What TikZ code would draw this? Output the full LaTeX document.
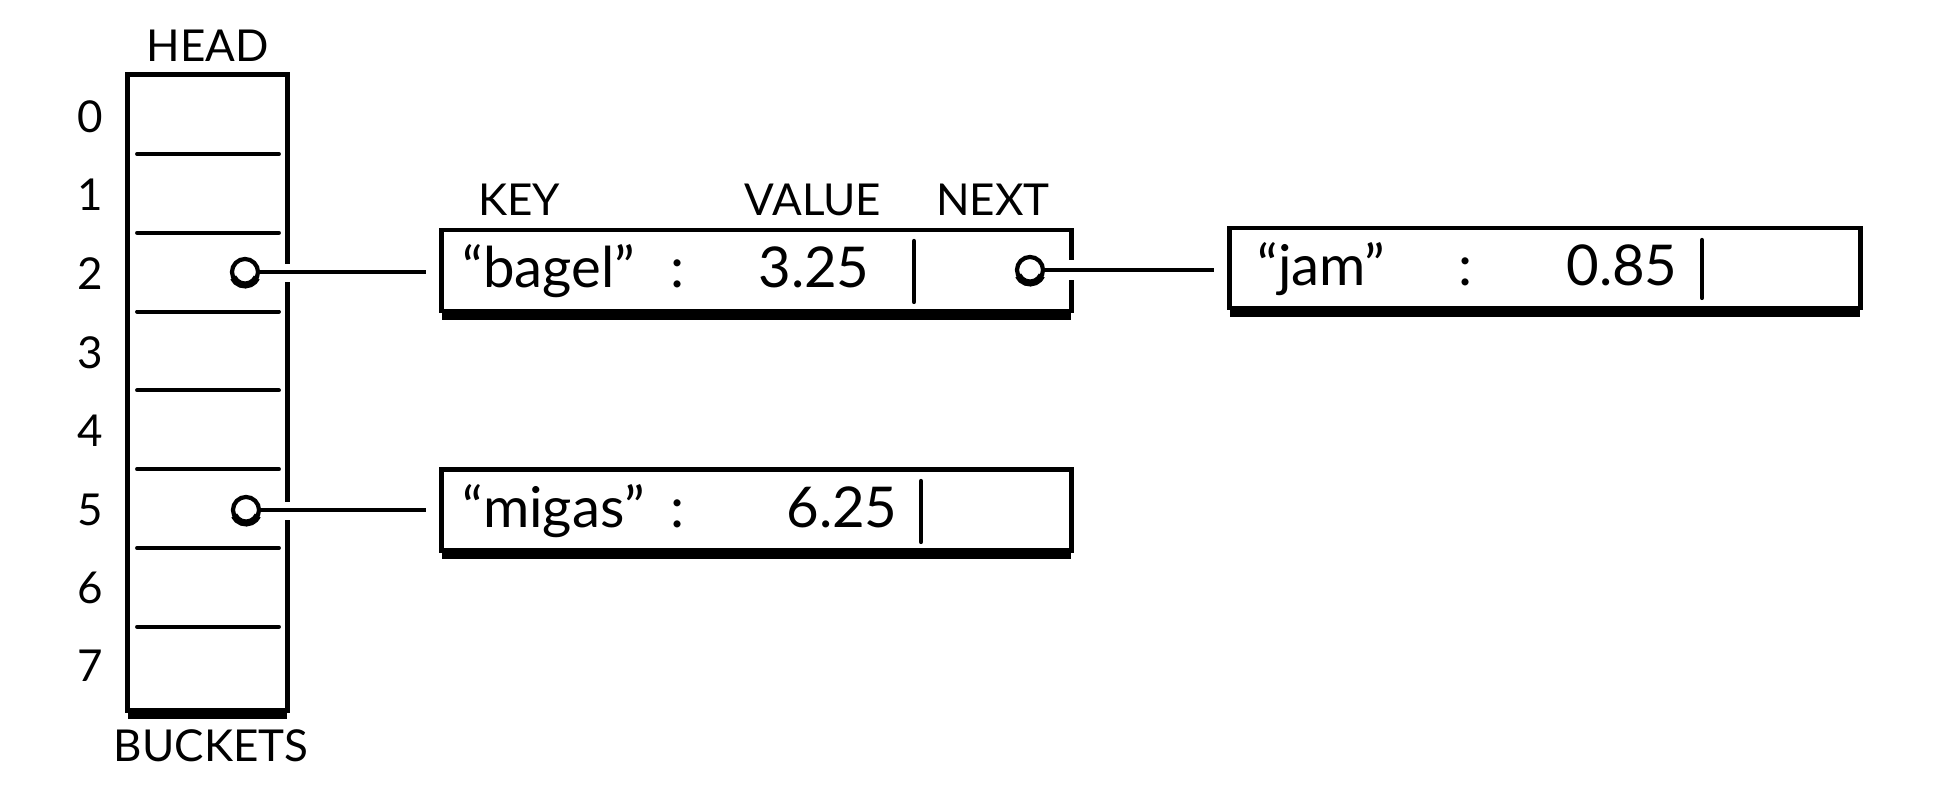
\documentclass[tikz,border=0pt]{standalone}
\usepackage{fontspec}
\setmainfont{Lato}
\usepackage{tikz}

\begin{document}
\begin{tikzpicture}[x=0.01cm,y=-0.01cm,
  every node/.style={font=\fontsize{12.5}{14}\selectfont},
  frame/.style={draw,line width=1.4pt,inner sep=0pt,minimum height=0.81cm},
  base/.style={line width=2.6pt,line cap=butt},
  divider/.style={line width=1.1pt,line cap=round},
  ptr/.style={circle,draw,line width=1.2pt,minimum size=0.26cm,inner sep=0pt,fill=white},
  link/.style={line width=0.9pt,shorten >=0.13cm},
  gap/.style={fill=white},
  bar/.style={line width=1.2pt,line cap=round},
  label/.style={anchor=base},
  entrytext/.style={font=\fontsize{16}{19}\selectfont,anchor=base}]
\useasboundingbox (0,0) rectangle (1938,798);

%bucket array
\node[frame,minimum width=1.59cm,minimum height=6.35cm] (buckets) at (207.5,392.5) {};
\draw[base] ([shift={(0.7pt,-0.5pt)}]buckets.south west) -- ([shift={(-0.7pt,-0.5pt)}]buckets.south east);
\foreach \k in {1,...,7}
  \draw[divider] (137,{154+(\k-1)*78.8}) -- (279,{154+(\k-1)*78.8});
\foreach \r/\y in {0/117,1/195,2/274,3/353,4/431,5/510,6/588,7/666}
  \node (row\r) at (90,\y) {\r};
\node[label] (head) at (208,62) {HEAD};
\node[label] (bucketslabel) at (211,762) {BUCKETS};

%entry boxes
\node[frame,minimum width=6.29cm] (bagel) at (756.5,270.5) {};
\node[frame,minimum width=6.29cm] (migas) at (756.5,510) {};
\node[frame,minimum width=6.3cm,minimum height=0.8cm] (jam) at (1545,268) {};
\foreach \e in {bagel,migas,jam}
  \draw[base] ([shift={(0.7pt,-0.5pt)}]\e.south west) -- ([shift={(-0.7pt,-0.5pt)}]\e.south east);

%pointers
\node[ptr] (ptr2) at (245,272) {};
\node[ptr] (ptr5) at (246,510) {};
\node[ptr] (ptrnext) at (1030,270) {};
\foreach \p in {ptr2,ptr5,ptrnext}
  \draw[line width=2pt] ([shift={(205:0.13cm)}]\p.center) arc[start angle=205,end angle=335,radius=0.13cm];

%openings in the walls
\fill[gap] (buckets.east |- ptr2.center) ++(-6,-8) rectangle ++(12,18);
\fill[gap] (buckets.east |- ptr5.center) ++(-6,-8) rectangle ++(12,18);
\fill[gap] (bagel.east |- ptrnext.center) ++(-6,-10) rectangle ++(12,20);

%links
\draw[link] (ptr2) -- (ptr2 -| bagel.west);
\draw[link] (ptr5) -- (ptr5 -| migas.west);
\draw[link] (ptrnext) -- (ptrnext -| jam.west);

%field names
\node[label] (keylabel) at (519,216) {KEY};
\node[label] (valuelabel) at (813,216) {VALUE};
\node[label] (nextlabel) at (993,216) {NEXT};

%entries
\node[entrytext,anchor=base west] (bagelkey) at (450,288) {``bagel''};
\node[entrytext] (bagelcolon) at (678,288) {:};
\node[entrytext,anchor=base east] (bagelvalue) at (882,288) {3.25};
\draw[bar] (914,241) -- (914,302);

\node[entrytext,anchor=base west] (migaskey) at (450,527.5) {``migas''};
\node[entrytext] (migascolon) at (678,527.5) {:};
\node[entrytext,anchor=base east] (migasvalue) at (910,527.5) {6.25};
\draw[bar] (921,481) -- (921,542);

\node[entrytext,anchor=base west] (jamkey) at (1245,285.5) {``jam''};
\node[entrytext] (jamcolon) at (1466,285.5) {:};
\node[entrytext,anchor=base east] (jamvalue) at (1690,285.5) {0.85};
\draw[bar] (1702,240) -- (1702,298);
\end{tikzpicture}
\end{document}
